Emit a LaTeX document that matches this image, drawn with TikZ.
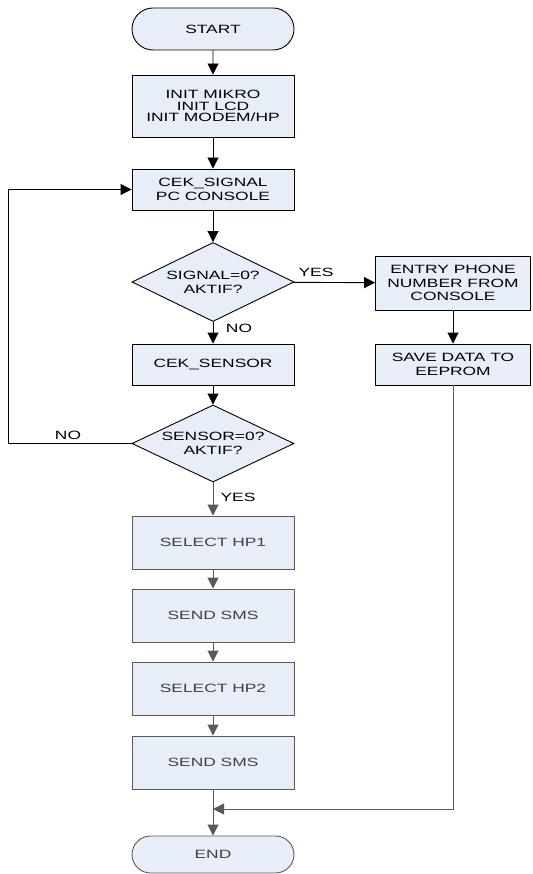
\documentclass[tikz,border=0pt]{standalone}
\usepackage{fontspec}
\setmainfont{Liberation Sans}[FakeStretch=1.45]
\usepackage{tikz}
\usetikzlibrary{arrows.meta}
\usetikzlibrary{shapes.geometric}
\usetikzlibrary{shapes.misc}
\definecolor{boxfill}{HTML}{E8EEF7}
\definecolor{dimline}{HTML}{5A5A5A}
\definecolor{dimtext}{HTML}{404040}
\tikzstyle{every node}=[font=\fontsize{12}{13.8}\selectfont, align=center]
\tikzstyle{proc}=[rectangle, draw=black, fill=boxfill, minimum width=162pt, inner sep=0pt]
\tikzstyle{dimproc}=[proc, draw=dimline, text=dimtext, minimum height=53pt]
\tikzstyle{term}=[rounded rectangle, draw=black, fill=boxfill, minimum width=162pt, inner sep=0pt]
\tikzstyle{decide}=[diamond, draw=black, fill=boxfill, aspect=2.05, inner sep=0pt, minimum width=162pt]
\tikzstyle{lbl}=[inner sep=1pt]
\tikzset{flow/.style={-{Triangle[length=11pt,width=11pt]}, black},
  dimflow/.style={flow, dimline}}

\begin{document}
\begin{tikzpicture}[x=1pt, y=-1pt, line width=0.9pt]
		\useasboundingbox (0,0) rectangle (532,874);
		% main column
		\node[term, minimum height=42pt] (start) at (213,29) {START};
		\node[proc, minimum height=62pt, font=\fontsize{12}{11.7}\selectfont] (init) at (213,106) {INIT MIKRO\\INIT LCD\\INIT MODEM/HP};
		\node[proc, minimum height=41pt] (cek_signal) at (213,189.5) {CEK\_SIGNAL\\PC CONSOLE};
		\node[decide, minimum height=79pt] (signal) at (213,282) {SIGNAL=0?\\AKTIF?};
		\node[proc, minimum height=41pt] (cek_sensor) at (213,364.5) {CEK\_SENSOR};
		\node[decide, minimum height=77pt] (sensor) at (213,443.5) {SENSOR=0?\\AKTIF?};
		\node[dimproc] (hp1) at (213,542.5) {SELECT HP1};
		\node[dimproc] (sms1) at (213,615.5) {SEND SMS};
		\node[dimproc] (hp2) at (213,688.5) {SELECT HP2};
		\node[dimproc] (sms2) at (213,762.5) {SEND SMS};
		\node[term, draw=dimline, text=dimtext, minimum height=37pt] (end) at (213,854.5) {END};
		% right column
		\node[proc, minimum width=155pt, minimum height=54pt] (entry) at (453,283) {ENTRY PHONE\\NUMBER FROM\\CONSOLE};
		\node[proc, minimum width=155pt, minimum height=41pt] (save) at (453,364.5) {SAVE DATA TO\\EEPROM};
		\coordinate (merge) at (213,809);
		% labels
		\node[lbl] (yes1) at (316,272) {YES};
		\node[lbl] (no1) at (239,328) {NO};
		\node[lbl] (no2) at (68,435) {NO};
		\node[lbl] (yes2) at (238,497) {YES};
		% connectors
		\draw[flow] (start) -- (init);
		\draw[flow] (init) -- (cek_signal);
		\draw[flow] (cek_signal) -- (signal);
		\draw[flow] (signal) -- (cek_sensor);
		\draw[flow] (cek_sensor) -- (sensor);
		\draw[flow] (signal) -- (entry);
		\draw[flow] (entry) -- (save);
		\draw[flow] (sensor.west) -- ++(-123,0) |- (cek_signal.west);
		\draw[dimflow] (sensor) -- (hp1);
		\draw[dimflow] (hp1) -- (sms1);
		\draw[dimflow] (sms1) -- (hp2);
		\draw[dimflow] (hp2) -- (sms2);
		\draw[dimflow] (sms2) -- (end);
		\draw[dimflow] (save) |- (merge);
		\end{tikzpicture}
\end{document}
